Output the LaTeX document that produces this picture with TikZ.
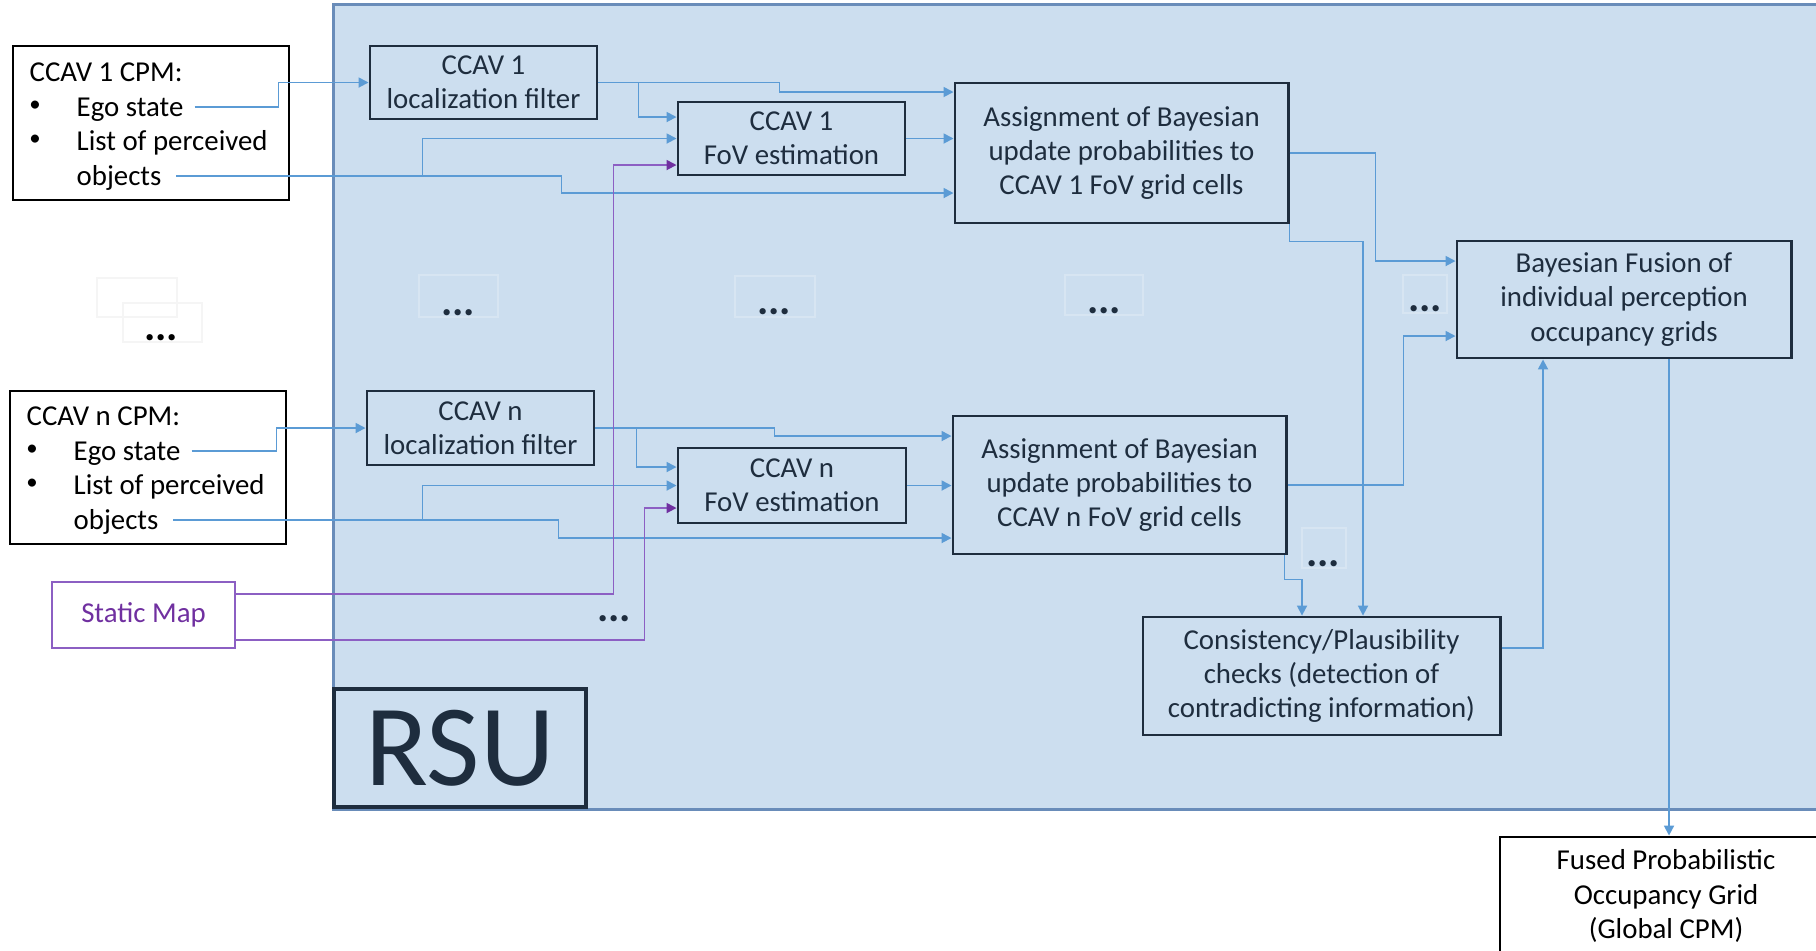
\documentclass[tikz,border=0pt]{standalone}
\usepackage{fontspec}
\setmainfont{Carlito}
\usetikzlibrary{arrows.meta,calc}
\definecolor{rsufill}{RGB}{204,222,239}
\definecolor{rsuline}{RGB}{105,140,185}
\definecolor{conn}{RGB}{91,155,213}
\definecolor{ink}{RGB}{30,45,62}
\definecolor{purp}{RGB}{112,48,160}
\definecolor{purpl}{RGB}{140,95,195}
\begin{document}
\begin{tikzpicture}[x=0.01cm,y=-0.01cm,
  every node/.style={font=\fontsize{8.2}{9.7}\selectfont},
  box/.style={draw=ink, line width=0.8pt, text=ink, align=center, inner sep=0pt},
  outbox/.style={draw=black, line width=0.8pt, inner sep=0pt, align=center},
  tline/.style={anchor=west, inner sep=0pt, text height=1.5ex, text depth=0.4ex},
  bul/.style={inner sep=0pt, font=\fontsize{6.5}{6.5}\selectfont},
  arr/.style={draw=conn, line width=0.5pt, -{Triangle[length=1mm,width=1mm]}},
  parr/.style={draw=purpl, line width=0.5pt, -{Triangle[length=1mm,width=1mm,color=purp]}},
  dotsn/.style={anchor=base, inner sep=0pt, text=ink, font=\fontsize{12}{12}\selectfont\bfseries},
  faint/.style={draw=white, opacity=0.22, line width=0.5pt},
  faintw/.style={draw=black!4, line width=0.5pt},
]
\path[use as bounding box, clip] (0,0) rectangle (1816,950);

% RSU region
\node[draw=rsuline, fill=rsufill, line width=0.8pt, minimum width=14.96cm, minimum height=8.04cm, inner sep=0pt] (rsu) at (1082,407) {};

% faint text-box outlines
\draw[faintw] (97,278) rectangle (177,317);
\draw[faintw] (123,303) rectangle (202,342);
\draw[faint] (419,275) rectangle (498,317);
\draw[faint] (735,276) rectangle (815,317);
\draw[faint] (1065,275) rectangle (1143,315);
\draw[faint] (1403,275) rectangle (1447,313);
\draw[faint] (1302,528) rectangle (1346,568);

% RSU label
\node[draw=ink, line width=1.3pt, text=ink, inner sep=0pt, minimum width=2.52cm, minimum height=1.18cm,
      font=\fontsize{33}{33}\selectfont] (rsulbl) at (460,748) {RSU};

% CPM boxes
\node[outbox, minimum width=2.76cm, minimum height=1.54cm] (cpm1) at (151,123) {};
\node[tline] (t1) at (29,72) {CCAV 1 CPM:};
\node[bul] (b11) at (35,106) {•};
\node[tline] (ego1) at (76,107) {Ego state};
\node[bul] (b12) at (35,140) {•};
\node[tline] (lst1) at (76,141) {List of perceived};
\node[tline] (obj1) at (76,176) {objects};

\node[outbox, minimum width=2.76cm, minimum height=1.53cm] (cpmn) at (148,467.5) {};
\node[tline] (tn) at (26,416) {CCAV n CPM:};
\node[bul] (bn1) at (32,450) {•};
\node[tline] (egon) at (73,451) {Ego state};
\node[bul] (bn2) at (32,484) {•};
\node[tline] (lstn) at (73,485) {List of perceived};
\node[tline] (objn) at (73,520) {objects};

\node[draw=purpl, line width=0.8pt, text=purp, inner sep=0pt, minimum width=1.83cm, minimum height=0.66cm] (static) at (143.5,615) {Static Map};

% processing boxes
\node[box, minimum width=2.27cm, minimum height=0.73cm] (loc1) at (483.5,82.5) {CCAV 1\\localization filter};
\node[box, minimum width=2.27cm, minimum height=0.73cm] (fov1) at (791.5,138.5) {CCAV 1\\FoV estimation};
\node[box, minimum width=3.33cm, minimum height=1.40cm] (asg1) at (1121.5,153) {Assignment of Bayesian\\update probabilities to\\CCAV 1 FoV grid cells};
\node[box, minimum width=2.27cm, minimum height=0.74cm] (locn) at (480.5,428) {CCAV n\\localization filter};
\node[box, minimum width=2.28cm, minimum height=0.75cm] (fovn) at (792,485.5) {CCAV n\\FoV estimation};
\node[box, minimum width=3.33cm, minimum height=1.38cm] (asgn) at (1119.5,485) {Assignment of Bayesian\\update probabilities to\\CCAV n FoV grid cells};
\node[box, minimum width=3.34cm, minimum height=1.17cm] (fusion) at (1624,299.5) {Bayesian Fusion of\\individual perception\\occupancy grids};
\node[box, minimum width=3.57cm, minimum height=1.18cm] (cons) at (1321.5,676) {Consistency/Plausibility\\checks (detection of\\contradicting information)};
\node[outbox, minimum width=3.32cm, minimum height=1.18cm] (fused) at (1666,896) {Fused Probabilistic\\Occupancy Grid\\(Global CPM)};

% dots
\node[dotsn, text=black] (d1) at (161,340) {...};
\node[dotsn] (d2) at (458,315) {...};
\node[dotsn] (d3) at (774,314) {...};
\node[dotsn] (d4) at (1104,313) {...};
\node[dotsn] (d5) at (1425,311) {...};
\node[dotsn] (d6) at (1323,566) {...};
\node[dotsn] (d7) at (614,621) {...};

% CCAV 1 chain
\draw[arr] ([xshift=3pt]ego1.east) -| ($(loc1.west)+(-90,0)$) -- (loc1.west);
\draw[arr] (loc1.east) -- ++(40,0) |- ($(fov1.west)+(0,-21.5)$);
\draw[arr] (loc1.east) -- ++(181,0) |- ($(asg1.west)+(0,-61)$);
\draw[arr] ([xshift=4pt]obj1.east) -| ($(fov1.west)+(-254,0)$) -- (fov1.west);
\draw[arr] ([xshift=4pt]obj1.east) -| ($(asg1.west)+(-392,40)$) -- ($(asg1.west)+(0,40)$);
\draw[arr] (fov1.east) -- (fov1.east -| asg1.west);

% CCAV n chain
\draw[arr] ([xshift=3pt]egon.east) -| ($(locn.west)+(-89,0)$) -- (locn.west);
\draw[arr] (locn.east) -- ++(41,0) |- ($(fovn.west)+(0,-18.5)$);
\draw[arr] (locn.east) -- ++(179,0) |- ($(asgn.west)+(0,-49)$);
\draw[arr] ([xshift=4pt]objn.east) -| ($(fovn.west)+(-254,0)$) -- (fovn.west);
\draw[arr] ([xshift=4pt]objn.east) -| ($(asgn.west)+(-393,53)$) -- ($(asgn.west)+(0,53)$);
\draw[arr] (fovn.east) -- (fovn.east -| asgn.west);

% static map
\draw[parr] ($(static.east)+(0,-21)$) -| ($(fov1.west)+(-63,26.5)$) -- ($(fov1.west)+(0,26.5)$);
\draw[parr] ($(static.east)+(0,25)$) -| ($(fovn.west)+(-32,22.5)$) -- ($(fovn.west)+(0,22.5)$);

% fusion side
\draw[arr] (asg1.east) -- ++(86,0) |- ($(fusion.west)+(0,-38.5)$);
\draw[arr] (asg1.south east) -- ++(0,17) -| ($(cons.north)+(41.5,0)$);
\draw[arr] (asgn.east) -- ++(116,0) |- ($(fusion.west)+(0,36.5)$);
\draw[arr] ($(asgn.south east)+(-3,0)$) -- ++(0,24) -| ($(cons.north)+(-19.5,0)$);
\draw[arr] ($(cons.east)+(0,-28)$) -| ($(fusion.south)+(-81,0)$);
\draw[arr] ($(fusion.south)+(45,0)$) -- ($(fused.north)+(3,0)$);
\end{tikzpicture}
\end{document}
